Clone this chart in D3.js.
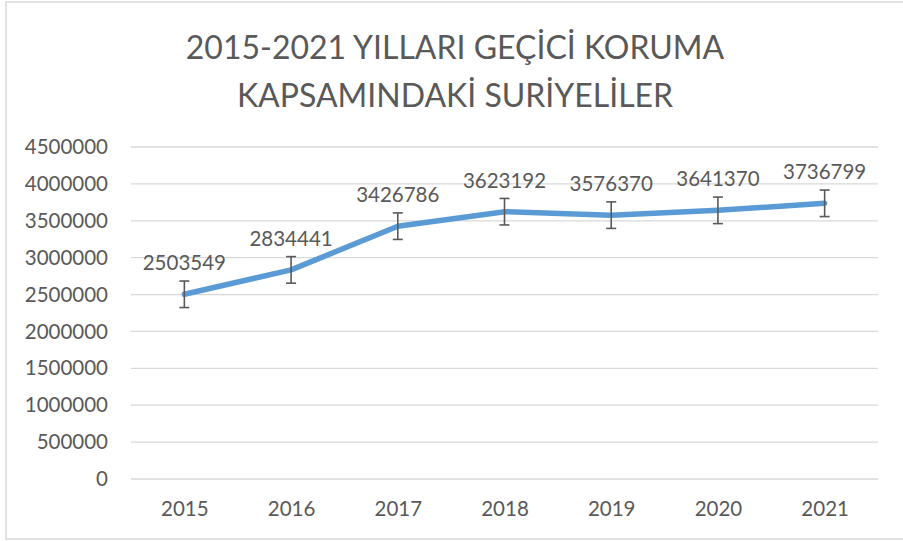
<!DOCTYPE html>
<html>
<head>
<meta charset="utf-8">
<script src="https://cdn.jsdelivr.net/npm/d3@7"></script>
<style>
  html, body { margin: 0; padding: 0; background: #fff; }
  svg { display: block; }
  text { font-family: Lato, "Open Sans", sans-serif; fill: #595959; }
</style>
</head>
<body>
<svg id="chart" width="903" height="541"></svg>
<script>
const titleLines = ["2015-2021 YILLARI GEÇİCİ KORUMA", "KAPSAMINDAKİ SURİYELİLER"];
const years = ["2015", "2016", "2017", "2018", "2019", "2020", "2021"];
const values = [2503549, 2834441, 3426786, 3623192, 3576370, 3641370, 3736799];
const errorAmount = 179700; // standard error bar
const yTicks = [0, 500000, 1000000, 1500000, 2000000, 2500000, 3000000, 3500000, 4000000, 4500000];

const svg = d3.select("#chart");
const plot = { left: 131, right: 878, top: 147, bottom: 479 };

// border
svg.append("rect")
  .attr("x", 6).attr("y", 2)
  .attr("width", 920).attr("height", 537)
  .attr("fill", "#fff")
  .attr("stroke", "#D9D9D9").attr("stroke-width", 1.5);

// title
svg.append("g").selectAll("text")
  .data(titleLines).join("text")
  .attr("x", 455)
  .attr("y", (d, i) => 59 + i * 48)
  .attr("text-anchor", "middle")
  .attr("font-size", 32)
  .text(d => d);

const x = d3.scalePoint().domain(years).range([plot.left, plot.right]).padding(0.5);
const y = d3.scaleLinear().domain([0, 4500000]).range([plot.bottom, plot.top]);

// gridlines
svg.append("g").selectAll("line")
  .data(yTicks).join("line")
  .attr("x1", plot.left).attr("x2", plot.right)
  .attr("y1", d => y(d)).attr("y2", d => y(d))
  .attr("stroke", "#D9D9D9").attr("stroke-width", 1.3);

// y axis
const yAxis = svg.append("g")
  .attr("transform", `translate(${plot.left},0)`)
  .call(d3.axisLeft(y).tickValues(yTicks).tickFormat(d3.format("d")).tickSize(0).tickPadding(23));
yAxis.select(".domain").remove();
yAxis.selectAll("text").attr("font-size", 20.5).attr("fill", "#595959").style("font-family", "Lato, sans-serif");

// x axis
const xAxis = svg.append("g")
  .attr("transform", `translate(0,${plot.bottom})`)
  .call(d3.axisBottom(x).tickSize(0).tickPadding(22));
xAxis.select(".domain").remove();
xAxis.selectAll("text").attr("font-size", 20.5).attr("fill", "#595959").style("font-family", "Lato, sans-serif");

const data = years.map((yr, i) => ({ yr, v: values[i] }));

// line
svg.append("path")
  .datum(data)
  .attr("fill", "none")
  .attr("stroke", "#5B9BD5")
  .attr("stroke-width", 5.5)
  .attr("stroke-linejoin", "round")
  .attr("stroke-linecap", "round")
  .attr("d", d3.line().x(d => x(d.yr)).y(d => y(d.v)));

// error bars
const eb = svg.append("g").attr("stroke", "#595959").attr("stroke-width", 1.6);
data.forEach(d => {
  const cx = x(d.yr), y1 = y(d.v + errorAmount), y2 = y(d.v - errorAmount);
  eb.append("line").attr("x1", cx).attr("x2", cx).attr("y1", y1).attr("y2", y2);
  eb.append("line").attr("x1", cx - 5).attr("x2", cx + 5).attr("y1", y1).attr("y2", y1);
  eb.append("line").attr("x1", cx - 5).attr("x2", cx + 5).attr("y1", y2).attr("y2", y2);
});

// data labels
svg.append("g").selectAll("text")
  .data(data).join("text")
  .attr("x", d => x(d.yr))
  .attr("y", d => y(d.v) - 24)
  .attr("text-anchor", "middle")
  .attr("font-size", 20.5)
  .text(d => d.v);
</script>
</body>
</html>
